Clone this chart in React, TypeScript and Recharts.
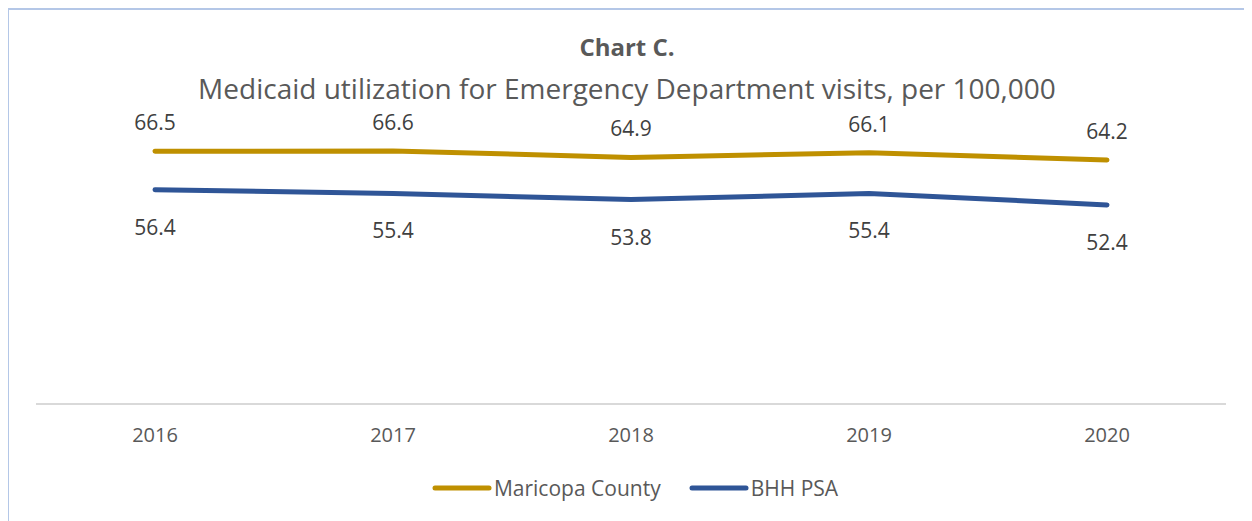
import React from 'react';
import { LineChart, Line, XAxis, YAxis, Legend, LabelList } from 'recharts';

const years = ['2016', '2017', '2018', '2019', '2020'];
const maricopa = [66.5, 66.6, 64.9, 66.1, 64.2];
const bhh = [56.4, 55.4, 53.8, 55.4, 52.4];
const seriesNames = ['Maricopa County', 'BHH PSA'];
const seriesColors = ['#BF9000', '#2F5597'];

const data = years.map((y, i) => ({ year: y, maricopa: maricopa[i], bhh: bhh[i] }));

const FONT = '"Open Sans", sans-serif';

const makeLabel = (dy: number) => (props: any) => {
  const { x, y, value } = props;
  return (
    <text x={x} y={y + dy} textAnchor="middle" dominantBaseline="central" fill="#404040" fontSize={21} fontFamily={FONT}>
      {Number(value).toFixed(1)}
    </text>
  );
};

const LegendContent = () => (
  <div style={{ display: 'flex', justifyContent: 'center', alignItems: 'center', gap: 28, fontFamily: FONT, fontSize: 21, color: '#595959', height: 40, paddingLeft: 8 }}>
    {seriesNames.map((n, i) => (
      <div key={n} style={{ display: 'flex', alignItems: 'center' }}>
        <svg width={60} height={10} style={{ marginRight: 2 }}>
          <line x1={3} y1={5} x2={57} y2={5} stroke={seriesColors[i]} strokeWidth={5} strokeLinecap="round" />
        </svg>
        <span>{n}</span>
      </div>
    ))}
  </div>
);

export default function App() {
  return (
    <div style={{ position: 'relative', width: 1260, height: 530, border: '2px solid #B4C7E7', boxSizing: 'border-box', marginLeft: -1, fontFamily: FONT }}>
      <div style={{ position: 'absolute', left: 0, width: 1236, top: 22, textAlign: 'center', fontSize: 24, fontWeight: 700, color: '#595959', lineHeight: '30px' }}>Chart C.</div>
      <div style={{ position: 'absolute', left: 0, width: 1236, top: 60, textAlign: 'center', fontSize: 28, color: '#595959', lineHeight: '36px' }}>Medicaid utilization for Emergency Department visits, per 100,000</div>
      <LineChart width={1243} height={511} data={data} margin={{ top: 90, left: 27, right: 26, bottom: 13 }}>
        <XAxis dataKey="year" axisLine={{ stroke: '#D9D9D9', strokeWidth: 2 }} tickLine={false} tick={{ fill: '#595959', fontSize: 20, fontFamily: FONT }} tickMargin={18} height={64} padding={{ left: 119, right: 119 }} />
        <YAxis hide domain={[0, 80]} />
        <Legend verticalAlign="bottom" height={40} content={<LegendContent />} />
        <Line type="linear" dataKey="maricopa" name={seriesNames[0]} stroke={seriesColors[0]} strokeWidth={5} strokeLinecap="round" dot={false} isAnimationActive={false}>
          <LabelList dataKey="maricopa" content={makeLabel(-29)} />
        </Line>
        <Line type="linear" dataKey="bhh" name={seriesNames[1]} stroke={seriesColors[1]} strokeWidth={5} strokeLinecap="round" dot={false} isAnimationActive={false}>
          <LabelList dataKey="bhh" content={makeLabel(37)} />
        </Line>
      </LineChart>
    </div>
  );
}
